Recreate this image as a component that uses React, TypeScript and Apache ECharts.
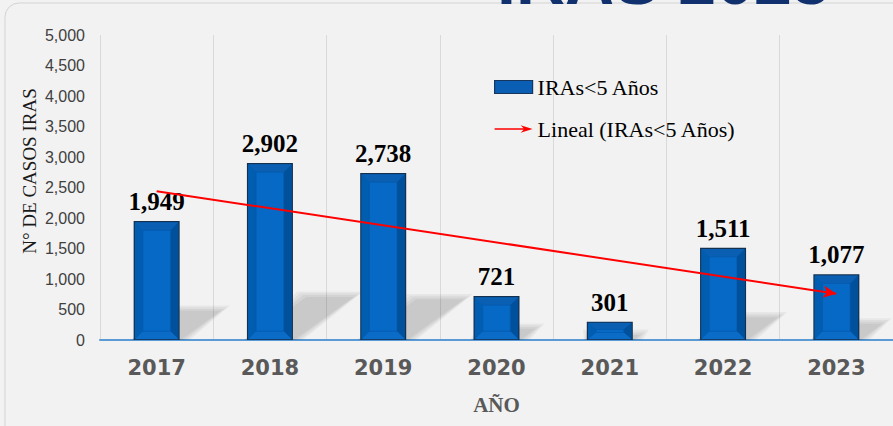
import React, { useEffect, useRef } from "react";
import * as echarts from "echarts";

const categories = ["2017", "2018", "2019", "2020", "2021", "2022", "2023"];
const casos = [1949, 2902, 2738, 721, 301, 1511, 1077];
const trendEnds = [2440, 760];
const seriesName = "IRAs<5 Años";
const trendName = "Lineal (IRAs<5 Años)";
const titleText = "IRAS 2023";
const yAxisTitle = "N° DE CASOS IRAS";
const xAxisTitle = "AÑO";

const BAR_W = 46;

export default function App() {
  const ref = useRef<HTMLDivElement>(null);
  useEffect(() => {
    if (!ref.current) return;
    const chart = echarts.init(ref.current, undefined, { renderer: "svg" });

    const bevel = (params: any, api: any) => {
      const idx = api.value(0);
      const val = api.value(1);
      const top = api.coord([idx, val]);
      const base = api.coord([idx, 0]);
      const x0 = top[0] - BAR_W / 2 + 1.2;
      const x1 = top[0] + BAR_W / 2 - 1.2;
      const y0 = top[1] + 1.2;
      const y1 = base[1] - 0.8;
      const h = y1 - y0;
      const ix = 8;
      const iy = Math.min(8, Math.max(1, (h - 3) / 2));
      const ix0 = x0 + ix, ix1 = x1 - ix, iy0 = y0 + iy, iy1 = y1 - iy;
      return {
        type: "group",
        children: [
          { type: "polygon", shape: { points: [[x0, y0], [x1, y0], [ix1, iy0], [ix0, iy0]] }, style: { fill: "#0a5fb2" } },
          { type: "polygon", shape: { points: [[x1, y0], [x1, y1], [ix1, iy1], [ix1, iy0]] }, style: { fill: "#00509c" } },
          { type: "polygon", shape: { points: [[x0, y1], [x1, y1], [ix1, iy1], [ix0, iy1]] }, style: { fill: "#0b6cc8" } },
          { type: "polygon", shape: { points: [[x0, y0], [ix0, iy0], [ix0, iy1], [x0, y1]] }, style: { fill: "#005db0" } },
          {
            type: "rect",
            shape: { x: ix0, y: iy0, width: ix1 - ix0, height: Math.max(0.5, iy1 - iy0) },
            style: { fill: "#0669c6", stroke: "#0558a8", lineWidth: 0.6 },
          },
        ],
      };
    };

    const shadow = (params: any, api: any) => {
      const idx = api.value(0);
      const val = api.value(1);
      const top = api.coord([idx, val]);
      const base = api.coord([idx, 0]);
      const H = base[1] - top[1];
      const x0 = top[0] - BAR_W / 2;
      const x1 = top[0] + BAR_W / 2;
      const y1 = base[1];
      const dx = 0.34 * H;
      const dh = 0.24 * H;
      const layers = [10, 7, 4, 1].map((e) => ({
        type: "polygon",
        shape: {
          points: [
            [x0 - e * 0.3, y1],
            [x1 + e, y1],
            [x1 + dx + e, y1 - dh - e * 0.6],
            [x0 + dx - e, y1 - dh - e * 0.6],
          ],
        },
        style: { fill: "rgba(0,0,0,0.045)" },
      }));
      return { type: "group", children: layers };
    };

    const pairs = casos.map((v, i) => [i, v]);

    chart.setOption({
      animation: false,
      backgroundColor: "#f2f2f2",
      grid: { left: 100, right: -7, top: 35, bottom: 86, containLabel: false },
      graphic: [
        {
          type: "rect",
          z: 0,
          shape: { x: 5, y: 3, width: 950, height: 500, r: 14 },
          style: { fill: "none", stroke: "#d3d3d3", lineWidth: 1 },
        },
        {
          type: "text",
          z: 10,
          x: 497,
          y: 14,
          style: {
            text: titleText,
            fontFamily: "Liberation Sans",
            fontWeight: "bold",
            fontSize: 68,
            fill: "#10306e",
            textVerticalAlign: "bottom",
          },
        },
        {
          type: "text",
          z: 10,
          x: 29,
          y: 171,
          rotation: Math.PI / 2,
          style: {
            text: yAxisTitle,
            fontFamily: "Liberation Serif",
            fontSize: 19,
            fill: "#1a1a1a",
            textAlign: "center",
            textVerticalAlign: "middle",
          },
        },
      ],
      legend: {
        orient: "vertical",
        left: 494,
        top: 76,
        padding: 0,
        itemWidth: 38,
        itemHeight: 13,
        itemGap: 20,
        textStyle: { fontFamily: "Liberation Serif", fontSize: 22, color: "#000" },
        data: [
          { name: seriesName, icon: "rect", itemStyle: { color: "#0a5fb4", borderColor: "#17365d", borderWidth: 1.2 } },
          {
            name: trendName,
            icon: "path://M0,3.2L29,3.2L26,0.3L38,4L26,7.7L29,4.8L0,4.8Z",
            itemStyle: { color: "#ff0000" },
          },
        ],
      },
      xAxis: {
        type: "category",
        data: categories,
        boundaryGap: true,
        axisLine: { lineStyle: { color: "#5b9bd5", width: 2 } },
        axisTick: { show: false },
        splitLine: { show: true, lineStyle: { color: "#d9d9d9", width: 1 } },
        axisLabel: {
          margin: 17,
          fontFamily: "DejaVu Sans",
          fontWeight: "bold",
          fontSize: 21,
          color: "#595959",
        },
        name: xAxisTitle,
        nameLocation: "middle",
        nameGap: 54,
        nameTextStyle: { fontFamily: "Liberation Serif", fontWeight: "bold", fontSize: 21, color: "#595959" },
      },
      yAxis: {
        type: "value",
        min: 0,
        max: 5000,
        interval: 500,
        axisLine: { show: false },
        axisTick: { show: false },
        splitLine: { show: false },
        axisLabel: {
          margin: 15,
          fontFamily: "Liberation Sans",
          fontSize: 16,
          color: "#404040",
          formatter: (v: number) => v.toLocaleString("en-US"),
        },
      },
      series: [
        {
          type: "custom",
          name: "shadow",
          z: 1,
          silent: true,
          renderItem: shadow,
          data: pairs,
          encode: { x: 0, y: 1 },
        },
        {
          type: "bar",
          name: seriesName,
          z: 2,
          data: casos,
          barWidth: BAR_W,
          itemStyle: { color: "#0062b8", borderColor: "#14304f", borderWidth: 1.5 },
          label: {
            show: true,
            position: "top",
            distance: 7,
            fontFamily: "Liberation Serif",
            fontWeight: "bold",
            fontSize: 25,
            color: "#000",
            formatter: (p: any) => Number(p.value).toLocaleString("en-US"),
          },
        },
        {
          type: "custom",
          name: "bevel",
          z: 3,
          silent: true,
          renderItem: bevel,
          data: pairs,
          encode: { x: 0, y: 1 },
        },
        {
          type: "line",
          name: trendName,
          z: 5,
          data: [],
          markLine: {
            silent: true,
            symbol: ["none", "arrow"],
            symbolSize: [9, 13],
            label: { show: false },
            lineStyle: { color: "#ff0000", width: 2, type: "solid" },
            data: [[{ coord: [categories[0], trendEnds[0]] }, { coord: [categories[categories.length - 1], trendEnds[1]] }]],
          },
        },
      ],
    });
    return () => chart.dispose();
  }, []);
  return <div ref={ref} style={{ position: "absolute", left: 0, top: 0, width: 893, height: 426 }} />;
}
